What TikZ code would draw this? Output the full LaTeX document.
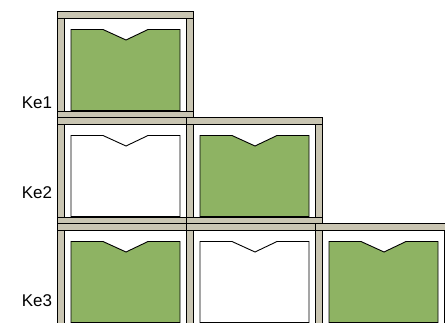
\documentclass[tikz,border=0pt]{standalone}
\usepackage{fontspec}
\setmainfont{Liberation Sans}
\definecolor{plank}{RGB}{201,197,178}
\definecolor{drawergreen}{RGB}{142,179,99}
\tikzset{
  plankstyle/.style={fill=plank,draw=black,line width=0.9pt},
  drawerstyle/.style={draw=black,line width=0.9pt},
  label/.style={font=\fontsize{17}{20}\selectfont,anchor=center}
}
\newcommand{\cabunit}[3]{%
  % #1 = left x, #2 = top y, #3 = drawer fill
  \fill[white] (#1,#2) rectangle ++(136,106);
  \draw[plankstyle] (#1,#2+7) rectangle (#1+7,#2+100);
  \draw[plankstyle] (#1+129,#2+7) rectangle (#1+136,#2+100);
  \draw[drawerstyle,fill=#3] (#1+14,#2+18.5) -- (#1+46,#2+18.5) -- (#1+69,#2+29) -- (#1+91,#2+18.5) -- (#1+123,#2+18.5) -- (#1+123,#2+99.5) -- (#1+14,#2+99.5) -- cycle;
  \draw[plankstyle] (#1,#2+100) rectangle (#1+136,#2+106);
  \draw[plankstyle] (#1,#2) rectangle (#1+136,#2+7);
}
\begin{document}
\begin{tikzpicture}[x=1pt,y=-1pt]
\useasboundingbox (0,0) rectangle (445,322);
\begin{scope}
\clip (0,0) rectangle (445,322);
\cabunit{57}{11}{drawergreen}
\cabunit{57}{117}{white}
\cabunit{186}{117}{drawergreen}
\cabunit{57}{223}{drawergreen}
\cabunit{186}{223}{white}
\cabunit{315}{223}{drawergreen}
\end{scope}
\node[label] (k1) at (37,103) {Ke1};
\node[label] (k2) at (37,193) {Ke2};
\node[label] (k3) at (37,301) {Ke3};
\end{tikzpicture}
\end{document}
